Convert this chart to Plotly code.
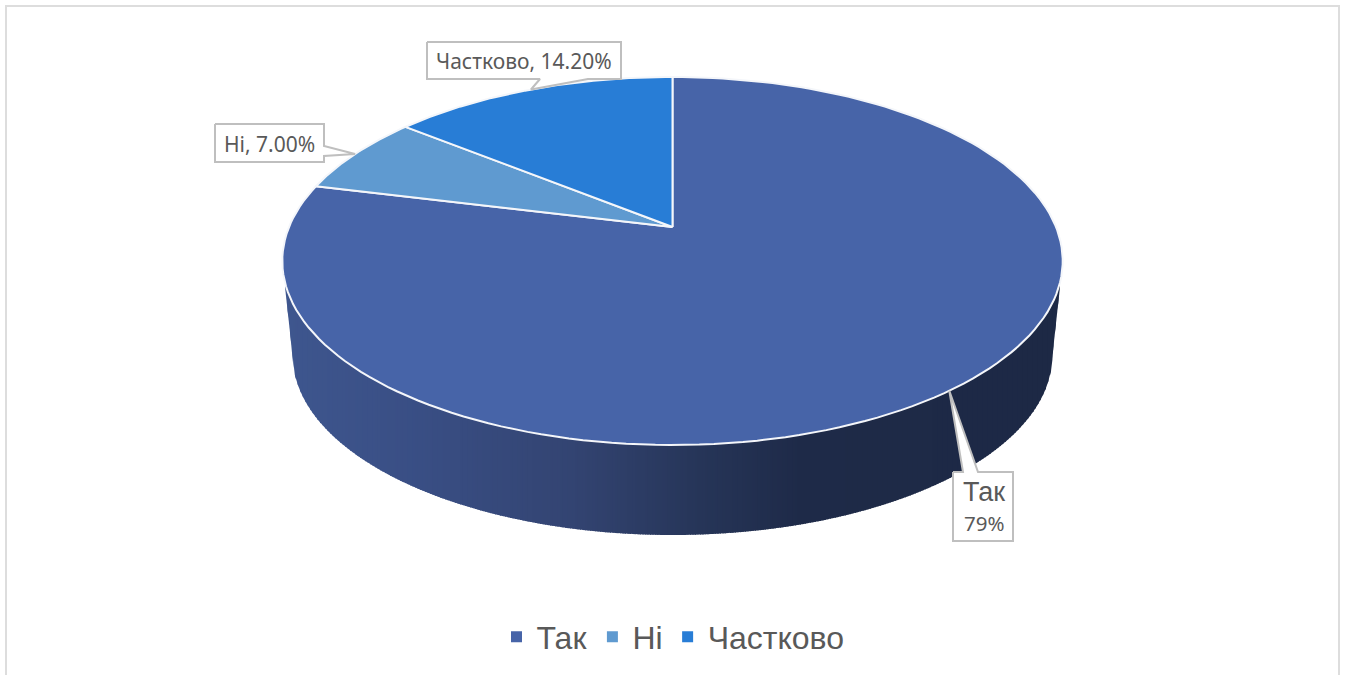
import numpy as np
import plotly.graph_objects as go

# --- data ---
categories = ["Так", "Ні", "Частково"]
values = [79.0, 7.0, 14.2]
slice_colors = ["#4764A8", "#5F9AD0", "#287DD6"]
callout_texts = [["Так", "79%"], ["Ні, 7.00%"], ["Частково, 14.20%"]]

# --- pie projection (pixels of the 1346x675 page) ---
CX, K, A, B, C = 672.5, 383.5, 135.8, 227.0, -0.1848
LOW_RX, LOW_CY, LOW_RY = 380.0, 355.0, 180.0


def project(theta_deg):
    """clockwise angle from 12 o'clock -> pixel position on the tilted disc"""
    th = np.radians(theta_deg)
    s, t = np.sin(th), -np.cos(th)
    d = 1 + C * t
    return CX + K * s / d, (A * t + B) / d


total = sum(values)
edges = np.concatenate([[0], np.cumsum(values)]) / total * 360.0
apex = CX, B

fig = go.Figure()

# side wall, sliced along x with a horizontal shade
ramp_x = [285, 420, 570, 700, 800, 1062]
ramp_r = [62, 57, 51, 38, 30, 29]
ramp_g = [86, 78, 68, 53, 42, 41]
ramp_b = [142, 132, 114, 88, 72, 69]


def top_lower(x):
    return 261.0 + 184.0 * np.sqrt(np.clip(1 - ((x - CX) / 390.0) ** 2, 0, 1))


def wall_lower(x):
    dx = np.abs(x - CX)
    curve = LOW_CY + LOW_RY * np.sqrt(np.clip(1 - (dx / LOW_RX) ** 2, 0, 1))
    edge = LOW_CY + (dx - LOW_RX) * (287.0 - LOW_CY) / 7.5
    return np.where(dx > LOW_RX, edge, curve)


wall_xs = np.arange(CX - 387.5, CX + 387.5, 2.5)
for x0 in wall_xs:
    x1 = min(x0 + 3.5, CX + 387.5)
    r = np.interp(x0, ramp_x, ramp_r)
    g = np.interp(x0, ramp_x, ramp_g)
    b = np.interp(x0, ramp_x, ramp_b)
    xx = np.linspace(x0, x1, 4)
    fig.add_trace(go.Scatter(
        x=list(xx) + list(xx[::-1]),
        y=list(wall_lower(xx)) + list(top_lower(xx[::-1]) - 3),
        mode="lines", line=dict(width=0), fill="toself",
        fillcolor=f"rgb({r:.0f},{g:.0f},{b:.0f})", showlegend=False, hoverinfo="skip"))

# top-face slices
for i, (name, col) in enumerate(zip(categories, slice_colors)):
    th = np.linspace(edges[i], edges[i + 1], 160)
    px, py = project(th)
    fig.add_trace(go.Scatter(
        x=[apex[0]] + list(px) + [apex[0]], y=[apex[1]] + list(py) + [apex[1]],
        mode="lines", line=dict(color="#F4F6FA", width=2), fill="toself",
        fillcolor=col, showlegend=False, name=name, hoverinfo="name"))

# legend entries
for name, col in zip(categories, slice_colors):
    fig.add_trace(go.Scatter(x=[None], y=[None], mode="markers", name=name,
                             marker=dict(symbol="square", size=11, color=col)))

# callouts: box + tail towards each slice's mid angle
mids = (edges[:-1] + edges[1:]) / 2
tips = [project(m) for m in mids]
GREY = "#BFBFBF"
callouts = [
    [(953, 472), (963, 472), tips[0], (978, 472), (1013, 472), (1013, 541), (953, 541)],
    [(215, 124), (324, 124), (324, 146), tips[1], (324, 156), (324, 162), (215, 162)],
    [(427, 42), (621, 42), (621, 79), (588, 79), tips[2], (540, 79), (427, 79)],
]
text_pos = [
    [(984, 492, 27, "Liberation Sans"), (984, 523, 20.5, "Noto Sans")],
    [(269.5, 144, 21, "Noto Sans")],
    [(524, 61, 21, "Noto Sans")],
]
for pts, lines, poss in zip(callouts, callout_texts, text_pos):
    xs = [p[0] for p in pts] + [pts[0][0]]
    ys = [p[1] for p in pts] + [pts[0][1]]
    fig.add_trace(go.Scatter(x=xs, y=ys, mode="lines", line=dict(color=GREY, width=2),
                             fill="toself", fillcolor="white", showlegend=False, hoverinfo="skip"))
    for text, (tx, ty, fs, fam) in zip(lines, poss):
        fig.add_annotation(x=tx, y=ty, text=text, showarrow=False, xref="x", yref="y",
                           font=dict(family=fam, size=fs, color="#595959"))

# outer chart frame
fig.add_trace(go.Scatter(x=[6, 6, 1339, 1339], y=[675, 6, 6, 675], mode="lines",
                         line=dict(color="#DDDDDD", width=2), showlegend=False, hoverinfo="skip"))

fig.update_layout(
    width=1346, height=675, margin=dict(l=0, r=0, t=0, b=0, pad=0),
    paper_bgcolor="white", plot_bgcolor="white", hovermode="closest",
    xaxis=dict(range=[0, 1346], visible=False, fixedrange=True),
    yaxis=dict(range=[675, 0], visible=False, fixedrange=True),
    legend=dict(orientation="h", x=0.5, xanchor="center", y=0.0565, yanchor="middle",
                font=dict(family="Liberation Sans", size=32, color="#595959"),
                bgcolor="rgba(0,0,0,0)", itemwidth=30),
)
fig.write_html("out.html", config={"displayModeBar": False},
               post_script="document.body.style.margin='0';document.documentElement.style.overflow='hidden';")
